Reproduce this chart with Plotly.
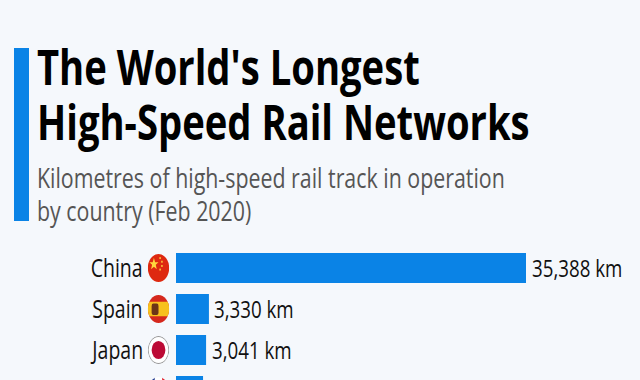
import base64
import plotly.graph_objects as go

categories = ["China", "Spain", "Japan", "France"]
km_values = [35388, 3330, 3041, 2734]
value_labels = ["35,388 km", "3,330 km", "3,041 km", "2,734 km"]
title_lines = ["The World's Longest", "High-Speed Rail Networks"]
subtitle_lines = ["Kilometres of high-speed rail track in operation", "by country (Feb 2020)"]

BG = "#f5f8fc"
BLUE = "#0a83e6"
PX_W, PX_H = 640, 380
BAR_X0 = 176
KM_PER_PX = 35388 / 350
FIRST_ROW_PX, ROW_PX = 268, 41
SQUEEZE = 0.78


def flag(body):
    svg = ("<svg xmlns='http://www.w3.org/2000/svg' viewBox='0 0 24 24' preserveAspectRatio='none'>"
           "<defs><clipPath id='c'><circle cx='12' cy='12' r='11.6'/></clipPath></defs>"
           "<g clip-path='url(#c)'>" + body + "</g></svg>")
    return "data:image/svg+xml;base64," + base64.b64encode(svg.encode()).decode()


star = "<polygon points='7,3.5 8.3,7.2 12,7.2 9,9.4 10.1,13 7,10.9 3.9,13 5,9.4 2,7.2 5.7,7.2' fill='#ffd83d'/>"
flags = [
    flag("<rect width='24' height='24' fill='#de2910'/>" + star +
         "<rect x='13' y='3' width='1.5' height='1.6' fill='#ffd83d'/><rect x='15' y='6' width='1.5' height='1.6' fill='#ffd83d'/>"
         "<rect x='15' y='9.5' width='1.5' height='1.6' fill='#ffd83d'/><rect x='13' y='12.5' width='1.5' height='1.6' fill='#ffd83d'/>"),
    flag("<rect width='24' height='24' fill='#d5281d'/><rect y='6' width='24' height='12' fill='#f7c11e'/>"
         "<rect x='4.5' y='7.5' width='7.5' height='9.5' rx='2' fill='#6b3517'/>"),
    flag("<circle cx='12' cy='12' r='11.6' fill='#9a9a9a'/><circle cx='12' cy='12' r='10.8' fill='white'/><circle cx='12' cy='12' r='7.5' fill='#bc0a35'/>"),
    flag("<rect width='8' height='24' fill='#223a8f'/><rect x='8' width='8' height='24' fill='white'/><rect x='16' width='8' height='24' fill='#e1222f'/>"),
]

fig = go.Figure(go.Bar(
    y=categories, x=km_values, orientation="h",
    marker=dict(color=BLUE, line_width=0), width=30 / ROW_PX,
))

fig.update_layout(
    width=PX_W, height=PX_H, autosize=False, paper_bgcolor=BG, plot_bgcolor=BG,
    showlegend=False, margin=dict(l=0, r=0, t=0, b=0),
    xaxis=dict(range=[-BAR_X0 * KM_PER_PX, (PX_W - BAR_X0) * KM_PER_PX], visible=False, fixedrange=True),
    yaxis=dict(type="category", categoryorder="array", categoryarray=categories, autorange=False,
               range=[(PX_H - FIRST_ROW_PX) / ROW_PX, -FIRST_ROW_PX / ROW_PX],
               visible=False, fixedrange=True),
    shapes=[dict(type="rect", xref="paper", yref="paper", x0=14 / PX_W, x1=29 / PX_W,
                 y0=1 - 221 / PX_H, y1=1 - 48 / PX_H, fillcolor=BLUE, line_width=0)],
)

INK = "#111111"
for i, (cat, val, lab, src) in enumerate(zip(categories, km_values, value_labels, flags)):
    fig.add_layout_image(source=src, xref="x", yref="y", x=-17.5 * KM_PER_PX, y=i, sizex=22 * KM_PER_PX,
                         sizey=29 / ROW_PX, xanchor="center", yanchor="middle", sizing="stretch", layer="above")
    fig.add_annotation(x=-31 * KM_PER_PX, y=cat, text=cat, showarrow=False, xanchor="right", align="right", yshift=1,
                       font=dict(family="Open Sans", size=25, color=INK))
    fig.add_annotation(x=val, y=cat, text=lab, showarrow=False, xanchor="left", align="left", xshift=3.5, yshift=1,
                       font=dict(family="Open Sans", size=24, color=INK))


def text(x, y, s, size, color, weight=400):
    fig.add_annotation(xref="paper", yref="paper", xanchor="left", yanchor="middle", align="left",
                       x=x / PX_W, y=1 - y / PX_H, showarrow=False, text=s,
                       font=dict(family="Open Sans", size=size, color=color, weight=weight))


text(35, 65.5, title_lines[0], 49, "#000000", 700)
text(35, 121.5, title_lines[1], 49, "#000000", 700)
text(35, 177, subtitle_lines[0], 27.4, "#555555")
text(35, 211, subtitle_lines[1], 27.4, "#555555")

post = """
document.body.style.margin = '0';
document.body.style.background = '%s';
document.querySelectorAll('.annotation-text').forEach(function (t) {
  var s = %s, x = parseFloat(t.getAttribute('x')) || 0;
  t.setAttribute('transform', 'matrix(' + s + ',0,0,1,' + (x * (1 - s)) + ',0)');
});
""" % (BG, SQUEEZE)

fig.write_html("out.html", config=dict(displayModeBar=False), post_script=post)
